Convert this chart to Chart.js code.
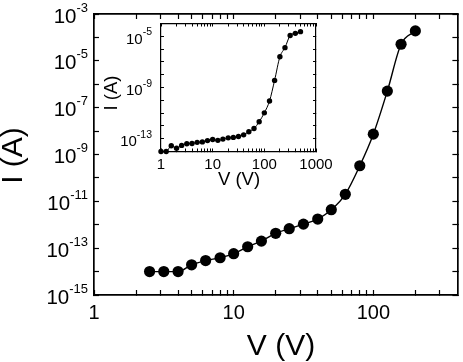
<!DOCTYPE html>
<html><head><meta charset="utf-8">
<script src="https://cdn.jsdelivr.net/npm/chart.js@4/dist/chart.umd.min.js"></script>
<style>
html,body{margin:0;padding:0;background:#fff;}
#wrap{position:relative;width:463px;height:362px;overflow:hidden;background:#fff;}
#main{position:absolute;left:0;top:0;width:463px;height:362px;}
#inset{position:absolute;left:95px;top:15px;width:245px;height:180px;}
</style></head><body>
<div id="wrap"><canvas id="main" width="463" height="362"></canvas><canvas id="inset" width="245" height="180"></canvas></div>
<script>
// ---- main plot data ----
const mainV = [2.5, 3.16, 4, 5, 6.3, 8, 10, 12.6, 15.8, 20, 25, 31.6, 40, 50, 63, 80, 100, 126, 158, 200];
const mainI = [1e-14, 1e-14, 1e-14, 1.95e-14, 2.95e-14, 3.9e-14, 5.8e-14, 1.15e-13, 2e-13, 4.3e-13, 6.8e-13, 1.06e-12, 1.75e-12, 4.4e-12, 2.0e-11, 3.3e-10, 7.4e-9, 5.1e-7, 5.1e-5, 1.9e-4];
// ---- inset data ----
const insetV = [1, 1.26, 1.58, 2, 2.51, 3.16, 3.98, 5.01, 6.31, 7.94, 10, 12.6, 15.8, 20, 25.1, 31.6, 39.8, 50.1, 63.1, 79.4, 100, 126, 158, 200, 251, 316, 398, 501];
const insetI = [1e-14, 1e-14, 2.8e-14, 1.8e-14, 3.0e-14, 4.0e-14, 4.2e-14, 5.2e-14, 5.6e-14, 7.1e-14, 8.7e-14, 7.4e-14, 9.3e-14, 1.17e-13, 1.26e-13, 1.5e-13, 2.0e-13, 3.5e-13, 6.2e-13, 2.1e-12, 1.05e-11, 8.8e-11, 3.6e-9, 2.5e-7, 1.3e-6, 1.15e-5, 1.7e-5, 2.3e-5];
// ---- ticks / labels ----
const mainXTicks = [1,2,3,4,5,6,7,8,9,10,20,30,40,50,60,70,80,90,100,200,300];
const mainXLabels = [1, 10, 100];
const mainYTicks = [1e-15,1e-14,1e-13,1e-12,1e-11,1e-10,1e-9,1e-8,1e-7,1e-6,1e-5,1e-4,1e-3];
const mainYLabelExps = [-3, -5, -7, -9, -11, -13, -15];
const insetXTicks = [1,2,3,4,5,6,7,8,9,10,20,30,40,50,60,70,80,90,100,200,300,400,500,600,700,800,900,1000];
const insetXLabels = [1, 10, 100, 1000];
const insetYTicks = [1e-14,1e-13,1e-12,1e-11,1e-10,1e-9,1e-8,1e-7,1e-6,1e-5,1e-4];
const insetYLabelExps = [-5, -9, -13];

const FONT = '"Liberation Sans", Arial, Helvetica, sans-serif';

function logAxis(o) {
  return {
    type: 'logarithmic', position: o.position, min: o.min, max: o.max,
    afterBuildTicks: s => { s.ticks = o.ticks.map(v => ({ value: v })); },
    afterFit: s => { if (s.isHorizontal()) s.height = o.size; else s.width = o.size; },
    ticks: { display: false, autoSkip: false },
    grid: { display: true, drawOnChartArea: false, drawTicks: true, tickLength: -o.tl, tickColor: '#000', tickWidth: o.tw },
    border: { display: true, color: '#000', width: o.bw }
  };
}

function powLabel(ctx, exp, xRight, yTick, big, small, baseOff, supOff) {
  const es = String(exp);
  ctx.font = small + 'px ' + FONT;
  const we = ctx.measureText(es).width;
  ctx.font = big + 'px ' + FONT;
  const wb = ctx.measureText('10').width;
  const x0 = xRight - we - wb;
  ctx.textAlign = 'left'; ctx.textBaseline = 'alphabetic';
  ctx.fillText('10', x0, yTick + baseOff);
  ctx.font = small + 'px ' + FONT;
  ctx.fillText(es, x0 + wb, yTick + supOff);
}

function makeLabelPlugin(c) {
  return {
    id: 'lbl' + c.name,
    beforeDraw(chart) {
      const a = chart.chartArea, ctx = chart.ctx;
      ctx.save(); ctx.fillStyle = '#fff';
      ctx.fillRect(a.left, a.top, a.right - a.left, a.bottom - a.top);
      ctx.restore();
    },
    afterDraw(chart) {
      const ctx = chart.ctx, sx = chart.scales.x, sy = chart.scales.y;
      ctx.save();
      ctx.fillStyle = '#000';
      c.yExps.forEach(e => {
        powLabel(ctx, e, c.yRight, sy.getPixelForValue(Math.pow(10, e)), c.big, c.small, c.baseOff, c.supOff);
      });
      ctx.font = c.xFont + 'px ' + FONT;
      ctx.textAlign = 'center'; ctx.textBaseline = 'alphabetic';
      c.xLabels.forEach(v => { ctx.fillText(String(v), sx.getPixelForValue(v), c.xBase); });
      ctx.font = c.titleFont + 'px ' + FONT;
      ctx.textAlign = 'center';
      ctx.fillText(c.xTitle, c.xTitleX, c.xTitleBase);
      ctx.translate(c.yTitleBase, c.yTitleY);
      ctx.rotate(-Math.PI / 2);
      ctx.fillText(c.yTitle, 0, 0);
      ctx.restore();
    }
  };
}

// ---- main chart ----
new Chart(document.getElementById('main'), {
  type: 'line',
  data: { datasets: [{
    data: mainV.map((v, i) => ({ x: v, y: mainI[i] })),
    borderColor: '#000', borderWidth: 1.4, pointRadius: 5.6, pointHoverRadius: 5.6,
    pointBackgroundColor: '#000', pointBorderColor: '#000', pointBorderWidth: 0,
    cubicInterpolationMode: 'monotone', clip: false
  }]},
  options: {
    responsive: false, animation: false, events: [],
    layout: { padding: { left: 0, top: 14, right: 1, bottom: 0 } },
    plugins: { legend: { display: false }, tooltip: { enabled: false } },
    scales: {
      x: logAxis({ position: 'bottom', min: 1, max: 400, ticks: mainXTicks, size: 67, tl: 5, tw: 1.2, bw: 1.7 }),
      x2: logAxis({ position: 'top', min: 1, max: 400, ticks: mainXTicks, size: 0, tl: 5, tw: 1.2, bw: 1.7 }),
      y: logAxis({ position: 'left', min: 1e-15, max: 1e-3, ticks: mainYTicks, size: 94, tl: 5, tw: 1.2, bw: 1.7 }),
      y2: logAxis({ position: 'right', min: 1e-15, max: 1e-3, ticks: mainYTicks, size: 0, tl: 5, tw: 1.2, bw: 1.7 })
    }
  },
  plugins: [makeLabelPlugin({ name: 'main', yExps: mainYLabelExps, yRight: 88, big: 20.5, small: 13, baseOff: 8.5, supOff: -2.5,
    xLabels: mainXLabels, xFont: 20, xBase: 319, titleFont: 30, xTitle: 'V (V)', xTitleX: 281, xTitleBase: 355,
    yTitle: 'I (A)', yTitleBase: 22, yTitleY: 155.5 })]
});

// ---- inset chart ----
new Chart(document.getElementById('inset'), {
  type: 'line',
  data: { datasets: [{
    data: insetV.map((v, i) => ({ x: v, y: insetI[i] })),
    borderColor: '#000', borderWidth: 1, pointRadius: 2.7, pointHoverRadius: 2.7,
    pointBackgroundColor: '#000', pointBorderColor: '#000', pointBorderWidth: 0,
    cubicInterpolationMode: 'monotone', clip: false
  }]},
  options: {
    responsive: false, animation: false, events: [],
    layout: { padding: { left: 0, top: 8.5, right: 24, bottom: 0 } },
    plugins: { legend: { display: false }, tooltip: { enabled: false } },
    scales: {
      x: logAxis({ position: 'bottom', min: 1, max: 1000, ticks: insetXTicks, size: 43.5, tl: 3, tw: 1, bw: 1.2 }),
      x2: logAxis({ position: 'top', min: 1, max: 1000, ticks: insetXTicks, size: 0, tl: 3, tw: 1, bw: 1.2 }),
      y: logAxis({ position: 'left', min: 1e-14, max: 1e-4, ticks: insetYTicks, size: 66, tl: 3, tw: 1, bw: 1.2 }),
      y2: logAxis({ position: 'right', min: 1e-14, max: 1e-4, ticks: insetYTicks, size: 0, tl: 3, tw: 1, bw: 1.2 })
    }
  },
  plugins: [makeLabelPlugin({ name: 'inset', yExps: insetYLabelExps, yRight: 57, big: 15, small: 10.5, baseOff: 7.5, supOff: -1,
    xLabels: insetXLabels, xFont: 15, xBase: 153.5, titleFont: 18.5, xTitle: 'V (V)', xTitleX: 144, xTitleBase: 170,
    yTitle: 'I (A)', yTitleBase: 22, yTitleY: 78 })]
});
</script>
</body></html>
